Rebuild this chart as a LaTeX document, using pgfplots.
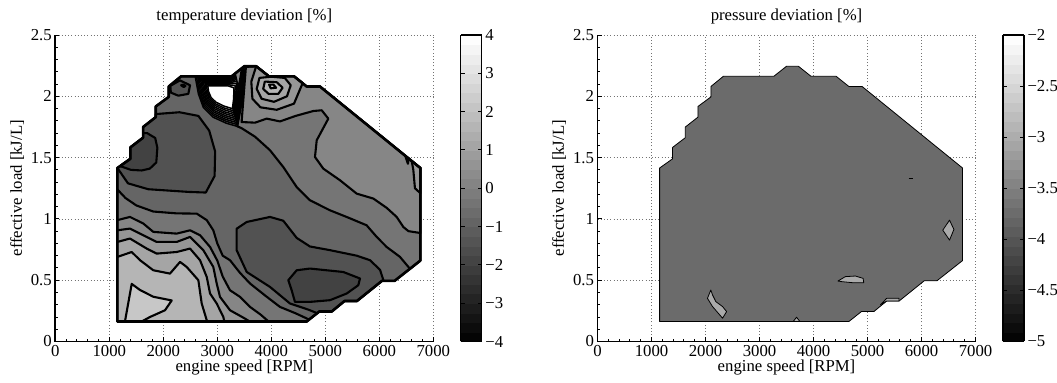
\documentclass[border=0pt]{standalone}
\usepackage{fontspec}
\setmainfont{Liberation Serif}
\usepackage{pgfplots}
\pgfplotsset{compat=1.18}
\definecolor{g66}{RGB}{66,66,66}
\definecolor{g82}{RGB}{82,82,82}
\definecolor{g99}{RGB}{101,101,101}
\definecolor{g115}{RGB}{117,117,117}
\definecolor{g132}{RGB}{134,134,134}
\definecolor{g148}{RGB}{150,150,150}
\definecolor{g165}{RGB}{165,165,165}
\definecolor{g181}{RGB}{181,181,181}
\definecolor{g197}{RGB}{199,199,199}
\definecolor{g214}{RGB}{214,214,214}
\definecolor{g230}{RGB}{230,230,230}
\definecolor{g247}{RGB}{247,247,247}
\definecolor{g107}{RGB}{107,107,107}
\definecolor{g170}{RGB}{170,170,170}
\newcommand{\fs}{\fontsize{16.8}{19}\selectfont}
\pgfplotsset{
  ct/.style={draw=black, line width=2.1bp, line join=round, fill=#1},
  sp/.style={draw=black, line width=1.5bp, line join=round, fill=#1},
  rp/.style={draw=black, line width=0.8bp, line join=round, fill=#1},
  mystyle/.style={
    scale only axis, width=378bp, height=306.5bp,
    xmin=0, xmax=7000, ymin=0, ymax=2.5,
    axis x line*=bottom, axis y line*=left,
    xtick={0,1000,2000,3000,4000,5000,6000,7000},
    xticklabels={0,1000,2000,3000,4000,5000,6000,7000},
    ytick={0,0.5,1,1.5,2,2.5}, yticklabels={0,0.5,1,1.5,2,2.5},
    minor x tick num=4, minor y tick num=4,
    tick align=inside,
    major tick length=4bp, minor tick length=2.5bp,
    grid=major,
    major grid style={black!55, line width=0.6bp, dash pattern=on 0.8bp off 2.4bp},
    axis line style={line width=1.7bp, -},
    tick style={black, line width=0.9bp},
    tick label style={font=\fs},
    label style={font=\fs},
    title style={font=\fs, at={(0.5,1)}, anchor=south, yshift=1bp},
    xlabel={engine speed [RPM]}, ylabel={effective load [kJ/L]},
    xlabel style={yshift=3bp},
    colormap/blackwhite,
    colorbar sampled,
  },
  mycb/.style={
    at={(parent axis.south east)}, anchor=south west, xshift=19bp,
    scale only axis, width=21bp, height=306.5bp,
    samples=33,
    tick align=inside, ytick pos=both, yticklabel pos=right,
    major tick length=4bp,
    yticklabel style={font=\fs},
    axis line style={line width=1.1bp},
  }
}
\begin{document}
\begin{tikzpicture}
\useasboundingbox (0bp,0bp) rectangle (1057bp,383bp);
% ---------------- LEFT: temperature deviation ----------------
\begin{axis}[mystyle, at={(55.3bp,41.5bp)}, anchor=south west,
  title={temperature deviation [\%]},
  point meta min=-4, point meta max=4,
  colorbar style={mycb, ytick={-4,-3,-2,-1,0,1,2,3,4},
    yticklabels={−4,−3,−2,−1,0,1,2,3,4}}]
% domain (value -1 band)
\addplot[ct=g99] coordinates {(1150,0.163) (1150,1.415) (1390,1.49) (1390,1.583) (1625,1.662) (1625,1.749) (1860,1.83) (1860,1.917) (2100,1.995) (2100,2.08) (2330,2.163) (3265,2.163) (3500,2.245) (3720,2.245) (3955,2.163) (4420,2.163) (4655,2.08) (4900,2.08) (6760,1.415) (6760,0.66) (6285,0.495) (6050,0.495) (5585,0.33) (5355,0.33) (5120,0.245) (4890,0.245) (4655,0.163)} -- cycle;
% upper right: >= -0.5
\addplot[ct=g115] coordinates {(6568,0.593) (6383,0.69) (6137,0.771) (5952,0.853) (5765,0.948) (5395,1.016) (5087,1.07) (4716,1.152) (4470,1.26) (4222,1.423) (3976,1.56) (3700,1.67) (3450,1.74) (3370,1.755) (3450,1.95) (3520,2.24) (3720,2.245) (3955,2.163) (4420,2.163) (4655,2.08) (4900,2.08) (6760,1.415) (6760,0.66)} -- cycle;
% upper right: >= 0
\addplot[ct=g132] coordinates {(6760,0.885) (6540,0.90) (6445,0.934) (6322,1.016) (6137,1.09) (5889,1.166) (5582,1.206) (5273,1.315) (4963,1.41) (4809,1.505) (4841,1.641) (5056,1.818) (4933,1.886) (4778,1.88) (4450,1.84) (4161,1.795) (3915,1.818) (3700,1.785) (3450,1.79) (3480,1.96) (3530,2.24) (3720,2.245) (3955,2.163) (4420,2.163) (4655,2.08) (4900,2.08) (6760,1.415)} -- cycle;
\addplot[ct=g148] coordinates {(6600,1.472) (6630,1.40) (6660,1.25) (6760,1.21) (6760,1.415)} -- cycle;
\addplot[ct=g148] coordinates {(6480,1.515) (6530,1.45) (6545,1.492)} -- cycle;
% peak near 4000 rpm
\addplot[ct=g148] coordinates {(3720,2.245) (3630,2.12) (3650,1.98) (3800,1.91) (4100,1.89) (4420,1.94) (4580,2.107) (4420,2.163) (3955,2.163)} -- cycle;
\addplot[ct=g165] coordinates {(3780,2.15) (3730,2.06) (3820,1.98) (4050,1.955) (4290,2.0) (4360,2.09) (4250,2.15) (4000,2.16)} -- cycle;
\addplot[ct=g181] coordinates {(3880,2.12) (3850,2.06) (3950,2.02) (4130,2.02) (4210,2.07) (4100,2.115)} -- cycle;
\addplot[ct=g197] coordinates {(3960,2.095) (3990,2.065) (4090,2.07) (4040,2.095)} -- cycle;
% bottom left lobes
\addplot[ct=g115] coordinates {(1150,1.24) (1300,1.17) (1500,1.11) (1815,1.06) (2248,1.045) (2619,1.043) (2804,0.99) (2926,0.907) (3000,0.80) (3100,0.70) (3235,0.663) (3420,0.56) (3606,0.473) (3900,0.37) (4161,0.282) (4450,0.23) (4700,0.179) (4655,0.163) (1150,0.163)} -- cycle;
\addplot[ct=g132] coordinates {(1150,0.99) (1383,1.016) (1630,0.962) (1815,0.894) (2248,0.88) (2495,0.907) (2680,0.867) (2866,0.771) (3000,0.66) (3100,0.53) (3235,0.418) (3421,0.364) (3606,0.282) (3800,0.22) (3950,0.163) (1150,0.163)} -- cycle;
\addplot[ct=g148] coordinates {(1150,0.907) (1383,0.921) (1692,0.853) (1878,0.812) (2248,0.812) (2495,0.853) (2742,0.744) (2926,0.608) (2989,0.473) (3050,0.364) (3235,0.255) (3500,0.19) (3600,0.163) (1150,0.163)} -- cycle;
\addplot[ct=g165] coordinates {(1150,0.812) (1383,0.84) (1692,0.758) (1878,0.717) (2248,0.73) (2495,0.758) (2680,0.663) (2804,0.527) (2866,0.391) (2989,0.31) (3112,0.2) (3130,0.163) (1150,0.163)} -- cycle;
\addplot[ct=g181] coordinates {(1150,0.69) (1415,0.73) (1569,0.663) (1815,0.581) (2124,0.554) (2310,0.649) (2433,0.608) (2649,0.5) (2711,0.31) (2804,0.174) (2810,0.163) (1150,0.163)} -- cycle;
\addplot[ct=g197] coordinates {(1290,0.163) (1415,0.47) (1569,0.42) (1815,0.365) (2156,0.335) (2032,0.255) (1754,0.20) (1600,0.163)} -- cycle;
% lower right dark lobe
\addplot[ct=g82] coordinates {(3359,0.92) (3545,0.975) (3976,1.016) (4222,0.985) (4470,0.845) (4716,0.775) (5087,0.745) (5582,0.70) (5828,0.663) (6013,0.585) (6080,0.495) (6050,0.495) (5585,0.33) (5355,0.33) (5120,0.245) (4890,0.245) (4850,0.231) (4685,0.26) (4346,0.31) (3976,0.445) (3545,0.567) (3359,0.744)} -- cycle;
\addplot[ct=g66] coordinates {(4377,0.418) (4315,0.50) (4470,0.581) (4716,0.595) (5333,0.567) (5643,0.514) (5611,0.459) (5395,0.391) (5087,0.337) (4716,0.323) (4438,0.323)} -- cycle;
% upper left dark lobe
\addplot[ct=g82] coordinates {(1150,1.415) (1346,1.29) (1722,1.242) (2473,1.22) (2787,1.215) (2950,1.35) (2960,1.55) (2850,1.72) (2650,1.84) (2300,1.87) (1860,1.855) (1860,1.83) (1625,1.749) (1625,1.662) (1390,1.583) (1390,1.49)} -- cycle;
\addplot[ct=g66] coordinates {(1200,1.431) (1400,1.40) (1600,1.395) (1750,1.41) (1870,1.46) (1890,1.58) (1850,1.66) (1700,1.70) (1625,1.70) (1625,1.662) (1390,1.583) (1390,1.49)} -- cycle;
\addplot[ct=g82] coordinates {(2130,2.085) (2309,2.13) (2495,2.09) (2464,2.02) (2278,2.005) (2140,2.03)} -- cycle;
\addplot[ct=g66] coordinates {(2330,2.09) (2380,2.075) (2410,2.085) (2370,2.095)} -- cycle;
% spike near 3000 rpm / 2 kJ/L
\addplot[sp=g115] coordinates {(2590,2.163) (2650,2.02) (2740,1.91) (2920,1.83) (3170,1.78) (3370,1.755) (3450,1.95) (3520,2.24) (3265,2.163)} -- cycle;
\addplot[sp=g132] coordinates {(2616,2.154) (2671,2.022) (2756,1.919) (2926,1.844) (3165,1.796) (3360,1.771) (3434,1.953) (3497,2.221) (3259,2.154)} -- cycle;
\addplot[sp=g148] coordinates {(2642,2.145) (2692,2.024) (2772,1.928) (2932,1.857) (3160,1.811) (3350,1.787) (3417,1.956) (3473,2.202) (3252,2.145)} -- cycle;
\addplot[sp=g165] coordinates {(2668,2.137) (2713,2.026) (2788,1.937) (2938,1.871) (3155,1.827) (3340,1.803) (3401,1.959) (3450,2.183) (3246,2.137)} -- cycle;
\addplot[sp=g181] coordinates {(2694,2.128) (2734,2.028) (2804,1.946) (2944,1.884) (3150,1.842) (3330,1.819) (3384,1.962) (3426,2.164) (3239,2.128)} -- cycle;
\addplot[sp=g197] coordinates {(2720,2.119) (2755,2.03) (2820,1.955) (2950,1.898) (3145,1.858) (3320,1.835) (3368,1.965) (3403,2.145) (3233,2.119)} -- cycle;
\addplot[sp=g214] coordinates {(2746,2.110) (2776,2.032) (2836,1.964) (2956,1.911) (3140,1.873) (3310,1.851) (3351,1.968) (3379,2.126) (3226,2.110)} -- cycle;
\addplot[sp=g230] coordinates {(2772,2.101) (2797,2.034) (2852,1.973) (2962,1.925) (3135,1.889) (3300,1.867) (3335,1.971) (3356,2.107) (3220,2.101)} -- cycle;
\addplot[sp=g247] coordinates {(2798,2.093) (2818,2.036) (2868,1.982) (2968,1.938) (3130,1.904) (3290,1.883) (3318,1.974) (3332,2.088) (3213,2.093)} -- cycle;
\addplot[sp=white] coordinates {(2824,2.084) (2839,2.038) (2884,1.991) (2974,1.952) (3125,1.920) (3280,1.899) (3302,1.977) (3309,2.069) (3207,2.084)} -- cycle;
\addplot[sp=g132] coordinates {(3330,2.19) (3450,2.225) (3390,2.07)} -- cycle;
% outline
\addplot[draw=black, line width=2.6bp, line join=round] coordinates {(1150,0.163) (1150,1.415) (1390,1.49) (1390,1.583) (1625,1.662) (1625,1.749) (1860,1.83) (1860,1.917) (2100,1.995) (2100,2.08) (2330,2.163) (3265,2.163) (3500,2.245) (3720,2.245) (3955,2.163) (4420,2.163) (4655,2.08) (4900,2.08) (6760,1.415) (6760,0.66) (6285,0.495) (6050,0.495) (5585,0.33) (5355,0.33) (5120,0.245) (4890,0.245) (4655,0.163)} -- cycle;
\end{axis}
% ---------------- RIGHT: pressure deviation ----------------
\begin{axis}[mystyle, at={(597.5bp,41.5bp)}, anchor=south west,
  title={pressure deviation [\%]},
  point meta min=-5, point meta max=-2,
  colorbar style={mycb, ytick={-5,-4.5,-4,-3.5,-3,-2.5,-2},
    yticklabels={−5,−4.5,−4,−3.5,−3,−2.5,−2}}]
\addplot[rp=g107] coordinates {(1150,0.163) (1150,1.415) (1390,1.49) (1390,1.583) (1625,1.662) (1625,1.749) (1860,1.83) (1860,1.917) (2100,1.995) (2100,2.08) (2330,2.163) (3265,2.163) (3500,2.245) (3720,2.245) (3955,2.163) (4420,2.163) (4655,2.08) (4900,2.08) (6760,1.415) (6760,0.66) (6285,0.495) (6050,0.495) (5585,0.33) (5355,0.33) (5120,0.245) (4890,0.245) (4655,0.163)} -- cycle;
\addplot[rp=g170] coordinates {(2098,0.42) (2036,0.352) (2130,0.285) (2316,0.19) (2391,0.244) (2316,0.285) (2192,0.325) (2130,0.38)} -- cycle;
\addplot[rp=g170] coordinates {(4452,0.493) (4589,0.529) (4776,0.534) (4919,0.515) (4931,0.48) (4713,0.48) (4527,0.488)} -- cycle;
\addplot[rp=g170] coordinates {(6519,0.99) (6600,0.914) (6519,0.827) (6394,0.908)} -- cycle;
\addplot[rp=g170] coordinates {(3624,0.163) (3686,0.198) (3748,0.163)} -- cycle;
\addplot[rp=g170] coordinates {(5240,0.30) (5355,0.352) (5585,0.352) (5585,0.33) (5355,0.33)} -- cycle;
\addplot[draw=black, line width=1bp] coordinates {(5760,1.33) (5850,1.33)};
\end{axis}
\end{tikzpicture}
\end{document}
